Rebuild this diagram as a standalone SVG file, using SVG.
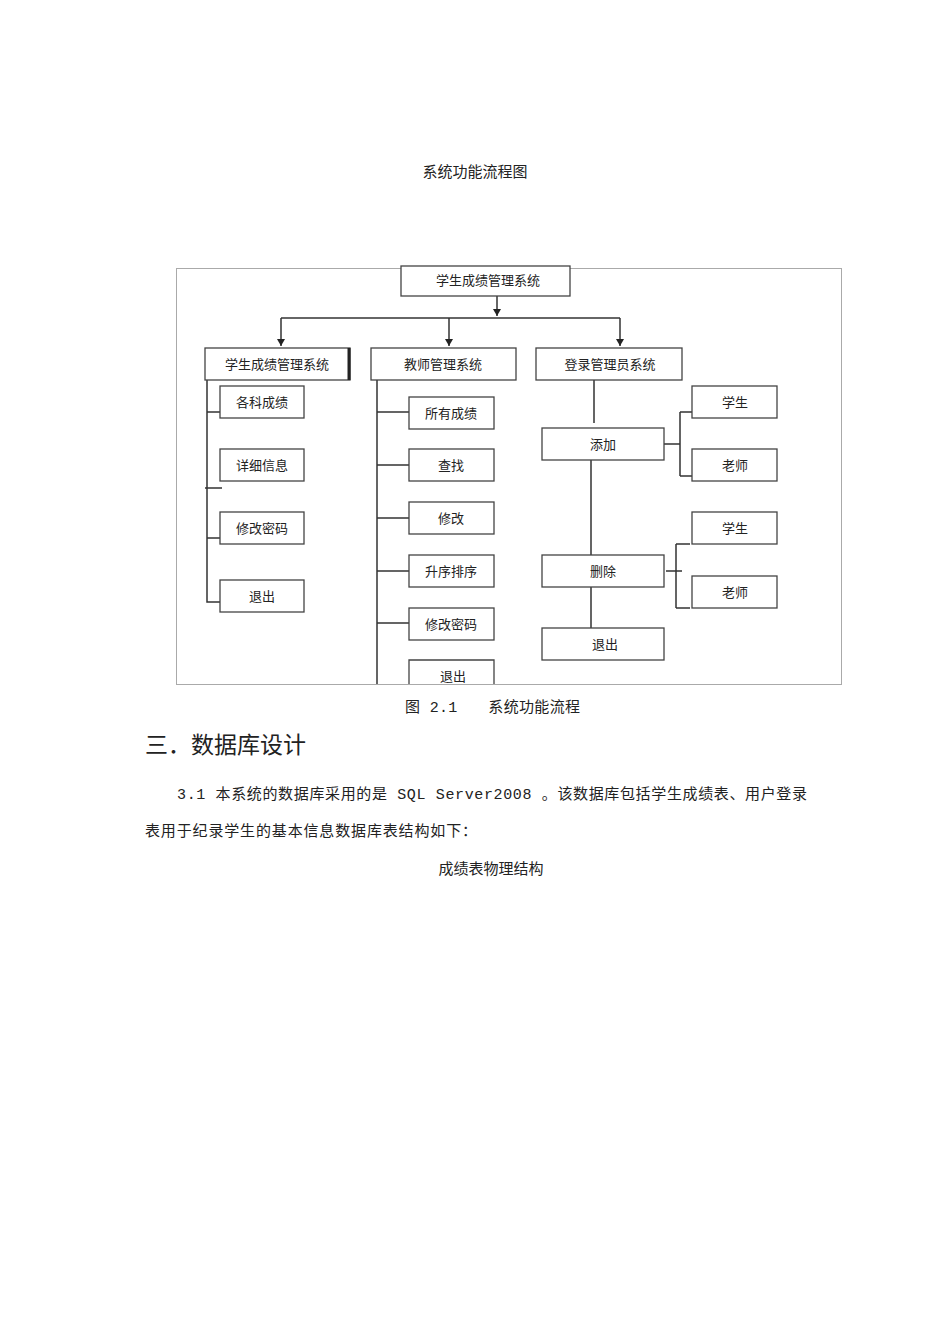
<svg xmlns="http://www.w3.org/2000/svg" width="950" height="1344" viewBox="0 0 950 1344">
<style>
.t{font-family:"Noto Sans CJK SC","Noto Sans",sans-serif;fill:#222}
.s{font-family:"Liberation Mono","Noto Sans CJK SC",monospace;fill:#222}
.b{fill:#fff;stroke:#444;stroke-width:1.3}
.l{stroke:#333;stroke-width:1.5;fill:none}
.n{font-family:"Noto Sans CJK SC",sans-serif;font-size:13px;fill:#222;text-anchor:middle}
</style>
<defs>
<marker id="d" markerWidth="8" markerHeight="8" refX="4" refY="7" markerUnits="userSpaceOnUse"><path d="M0,0 L8,0 L4,7 z" fill="#222"/></marker></defs>
<rect width="950" height="1344" fill="#fff"/>
<text class="s" x="475" y="177" font-size="15" text-anchor="middle">系统功能流程图</text>
<rect x="176.5" y="268.5" width="665" height="416" fill="none" stroke="#aaa"/>
<g id="connectors">
<path class="l" d="M497 296V316" marker-end="url(#d)"/>
<path class="l" d="M281 318H620"/>
<path class="l" d="M281 318V346" marker-end="url(#d)"/>
<path class="l" d="M449 318V346" marker-end="url(#d)"/>
<path class="l" d="M620 318V346" marker-end="url(#d)"/>
<path class="l" d="M207 380V602H220M207 412H220M205 488H222M207 538H220"/>
<path class="l" d="M377 380V684M377 412H409M377 465H409M377 518H409M377 571H409M377 623H409"/>
<path class="l" d="M594 380V423M591 460V555M591 587V628"/>
<path class="l" d="M664 444H680M680 412V476M680 412H692M680 476H692"/>
<path class="l" d="M666 571H682M676 544V608M676 544H690M676 608H690"/>
</g>
<g id="top"><rect class="b" x="401" y="266" width="169" height="30"/><text class="n" x="488" y="285">学生成绩管理系统</text></g>
<g id="n1"><rect class="b" x="205" y="348" width="145" height="32"/><path d="M349 348V380" stroke="#222" stroke-width="3"/><text class="n" x="277" y="369">学生成绩管理系统</text></g>
<g id="n2"><rect class="b" x="371" y="348" width="145" height="32"/><text class="n" x="443" y="369">教师管理系统</text></g>
<g id="n3"><rect class="b" x="536" y="348" width="146" height="32"/><text class="n" x="610" y="369">登录管理员系统</text></g>
<g id="l1"><rect class="b" x="220" y="386" width="84" height="32"/><text class="n" x="262" y="407">各科成绩</text></g>
<g id="l2"><rect class="b" x="220" y="449" width="84" height="32"/><text class="n" x="262" y="470">详细信息</text></g>
<g id="l3"><rect class="b" x="220" y="512" width="84" height="32"/><text class="n" x="262" y="533">修改密码</text></g>
<g id="l4"><rect class="b" x="220" y="580" width="84" height="32"/><text class="n" x="262" y="601">退出</text></g>
<g id="m1"><rect class="b" x="409" y="397" width="85" height="32"/><text class="n" x="451" y="418">所有成绩</text></g>
<g id="m2"><rect class="b" x="409" y="449" width="85" height="32"/><text class="n" x="451" y="470">查找</text></g>
<g id="m3"><rect class="b" x="409" y="502" width="85" height="32"/><text class="n" x="451" y="523">修改</text></g>
<g id="m4"><rect class="b" x="409" y="555" width="85" height="32"/><text class="n" x="451" y="576">升序排序</text></g>
<g id="m5"><rect class="b" x="409" y="608" width="85" height="32"/><text class="n" x="451" y="629">修改密码</text></g>
<g id="m6"><path class="b" d="M409 684V660H494V684"/><text class="n" x="453" y="681">退出</text></g>
<g id="r1"><rect class="b" x="542" y="428" width="122" height="32"/><text class="n" x="603" y="449">添加</text></g>
<g id="r2"><rect class="b" x="542" y="555" width="122" height="32"/><text class="n" x="603" y="576">删除</text></g>
<g id="r3"><rect class="b" x="542" y="628" width="122" height="32"/><text class="n" x="605" y="649">退出</text></g>
<g id="s1"><rect class="b" x="692" y="386" width="85" height="32"/><text class="n" x="735" y="407">学生</text></g>
<g id="s2"><rect class="b" x="692" y="449" width="85" height="32"/><text class="n" x="735" y="470">老师</text></g>
<g id="s3"><rect class="b" x="692" y="512" width="85" height="32"/><text class="n" x="735" y="533">学生</text></g>
<g id="s4"><rect class="b" x="692" y="576" width="85" height="32"/><text class="n" x="735" y="597">老师</text></g>
<text class="s" x="405" y="712" font-size="15" textLength="175">图 2.1　　系统功能流程</text>
<text class="t" x="145" y="753" font-size="23">三．数据库设计</text>
<text class="s" x="177" y="799" font-size="15" textLength="630">3.1 本系统的数据库采用的是 SQL Server2008 。该数据库包括学生成绩表、用户登录</text>
<text class="s" x="145" y="836" font-size="15" textLength="332">表用于纪录学生的基本信息数据库表结构如下：</text>
<text class="s" x="491" y="874" font-size="15" text-anchor="middle">成绩表物理结构</text>
</svg>
